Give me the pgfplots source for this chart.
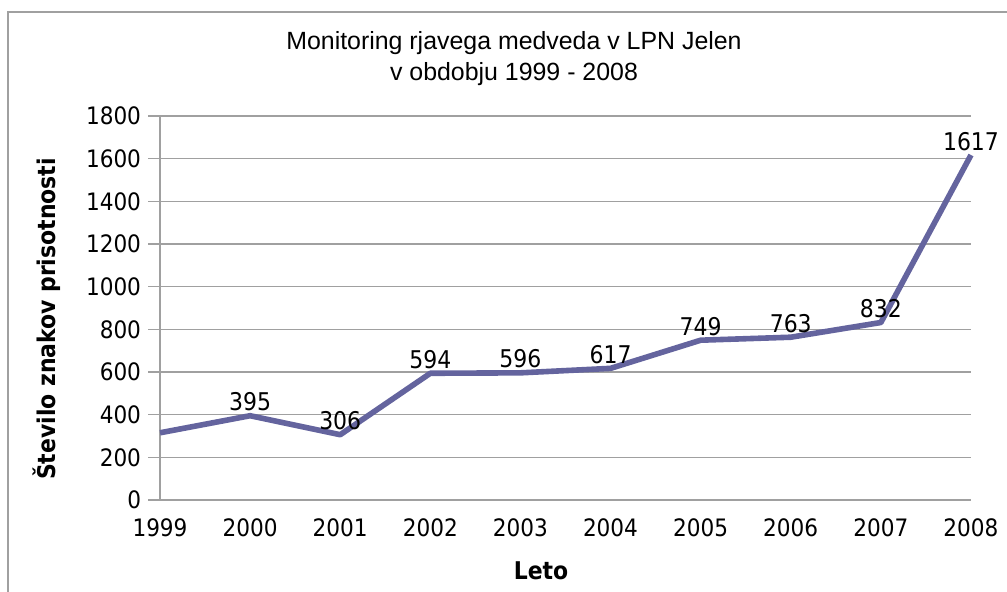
\documentclass[border=0pt]{standalone}
\usepackage{pgfplots}
\pgfplotsset{compat=1.18}
\usepackage{fontspec}
\setmainfont{DejaVu Sans Condensed}
\newfontfamily\titlefont{Liberation Sans}
\definecolor{linec}{RGB}{100,100,158}
\definecolor{gridc}{RGB}{160,160,160}
\begin{document}
\begin{tikzpicture}
\useasboundingbox (-80pt,-46pt) rectangle (423.5pt,250pt);
\draw[gridc, line width=0.7pt] (-76pt,-50pt) -- (-76pt,244pt) -- (430pt,244pt);
\begin{axis}[
  at={(0,0)}, anchor=south west,
  scale only axis, width=405.5pt, height=192pt,
  xmin=1999, xmax=2008, ymin=0, ymax=1800,
  xtick={1999,...,2008}, ytick={0,200,...,1800},
  /pgf/number format/assume math mode=true,
  /pgf/number format/1000 sep={},
  axis lines*=left,
  ymajorgrids, grid style={gridc, line width=0.6pt},
  axis line style={gridc, line width=0.6pt},
  tick align=outside,
  major tick length=6pt,
  ytick style={gridc, line width=0.6pt},
  xtick style={draw=none},
  tick label style={font=\fontsize{12}{14}\selectfont, text=black},
  clip=false,
]
\addplot[linec, line width=2.8pt, line join=round] coordinates {
(1999,315) (2000,395) (2001,306) (2002,594) (2003,596) (2004,617) (2005,749) (2006,763) (2007,832) (2008,1617)};
\addplot[draw=none, nodes near coords, point meta=explicit symbolic,
  every node near coord/.style={anchor=base, yshift=2.5pt, font=\fontsize{12.2}{14}\selectfont, text=black}]
  coordinates {
(2000,395) [395] (2001,306) [306] (2002,594) [594] (2003,596) [596] (2004,617) [617] (2005,749) [749] (2006,763) [763] (2007,832) [832] (2008,1617) [1617]};
\end{axis}
\node[font=\titlefont\fontsize{12.45}{15}\selectfont, anchor=base] at (177pt,225.3pt) {Monitoring rjavega medveda v LPN Jelen};
\node[font=\titlefont\fontsize{12.45}{15}\selectfont, anchor=base] at (177pt,209.5pt) {v obdobju 1999 - 2008};
\node[font=\bfseries\fontsize{12.2}{14}\selectfont, rotate=90] at (-56.5pt,90.5pt) {Število znakov prisotnosti};
\node[font=\bfseries\fontsize{12.2}{14}\selectfont] at (190.5pt,-35.5pt) {Leto};
\end{tikzpicture}
\end{document}
